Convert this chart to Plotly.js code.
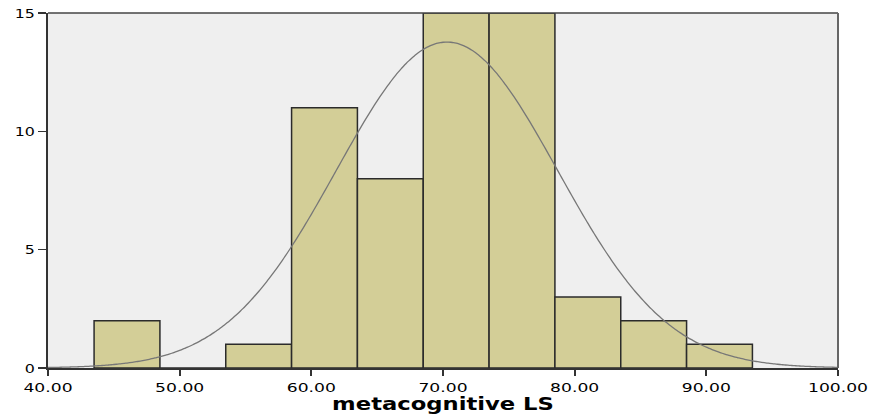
<!DOCTYPE html>
<html>
<head>
<meta charset="utf-8">
<script src="https://cdn.plot.ly/plotly-3.0.1.min.js"></script>
<style>html,body{margin:0;padding:0;background:#fff;}#chart{width:869px;height:414px;}</style>
</head>
<body>
<div id="chart"></div>
<script>
// Histogram bins (centers) and frequencies
const binCenters = [46, 51, 56, 61, 66, 71, 76, 81, 86, 91];
const counts = [2, 0, 1, 11, 8, 15, 15, 3, 2, 1];
const binWidth = 5;
// Normal curve parameters (fitted)
const curveMean = 70.3;
const curveSD = 8.4;
const totalN = 58;
const xTickVals = [40, 50, 60, 70, 80, 90, 100];
const xTickText = ["40.00", "50.00", "60.00", "70.00", "80.00", "90.00", "100.00"];
const yTickVals = [0, 5, 10, 15];

const cx = [], cy = [];
for (let i = 0; i <= 300; i++) {
  const x = 40 + i * 0.2;
  const z = (x - curveMean) / curveSD;
  cx.push(x);
  cy.push(totalN * binWidth / (curveSD * Math.sqrt(2 * Math.PI)) * Math.exp(-0.5 * z * z));
}

const traces = [
  {type: 'bar', x: binCenters, y: counts, width: binWidth,
   marker: {color: '#d3ce97', line: {color: '#2b2b2b', width: 1.5}},
   hoverinfo: 'skip', showlegend: false},
  {type: 'scatter', mode: 'lines', x: cx, y: cy,
   line: {color: '#777777', width: 1.3, shape: 'spline'},
   hoverinfo: 'skip', showlegend: false}
];

const layout = {
  width: 869, height: 414,
  margin: {l: 48, r: 31, t: 13, b: 46},
  paper_bgcolor: '#ffffff', plot_bgcolor: '#efefef',
  bargap: 0,
  font: {family: 'DejaVu Sans, Arial, sans-serif', color: '#000'},
  xaxis: {range: [40, 100], tickvals: xTickVals, ticktext: xTickText,
    ticks: 'outside', ticklen: 6, tickwidth: 2, tickcolor: '#333',
    showgrid: false, zeroline: false, showline: true, linecolor: '#333', linewidth: 2,
    mirror: false, tickfont: {size: 13, family: 'DejaVu Sans, Arial, sans-serif'},
    title: {text: 'metacognitive LS', font: {size: 18, family: 'DejaVu Sans, Arial, sans-serif', weight: 'bold'}, standoff: 0}},
  yaxis: {range: [0, 15], tickvals: yTickVals,
    ticks: 'outside', ticklen: 8, tickwidth: 1.5, tickcolor: '#333',
    showgrid: false, zeroline: false, showline: true, linecolor: '#333', linewidth: 2.5,
    tickfont: {size: 13, family: 'DejaVu Sans, Arial, sans-serif'}},
  shapes: [
    {type: 'line', xref: 'paper', yref: 'paper', x0: 0, x1: 1, y0: 1, y1: 1, line: {color: '#444', width: 1.5}},
    {type: 'line', xref: 'paper', yref: 'paper', x0: 1, x1: 1, y0: 0, y1: 1, line: {color: '#666', width: 2}}
  ]
};

function stretch(el, sx, anchor) {
  const bb = el.getBBox();
  const cxp = anchor === 'end' ? bb.x + bb.width : bb.x + bb.width / 2;
  const cyp = bb.y + bb.height / 2;
  const t = el.getAttribute('transform') || '';
  el.setAttribute('transform', t + ` translate(${cxp},${cyp}) scale(${sx},1) translate(${-cxp},${-cyp})`);
}

Plotly.newPlot('chart', traces, layout, {displayModeBar: false, staticPlot: true}).then(gd => {
  gd.querySelectorAll('.xtick text').forEach(el => stretch(el, 1.32, 'middle'));
  gd.querySelectorAll('.ytick text').forEach(el => stretch(el, 1.22, 'end'));
  gd.querySelectorAll('.g-xtitle text').forEach(el => stretch(el, 1.26, 'middle'));
});
</script>
</body>
</html>
